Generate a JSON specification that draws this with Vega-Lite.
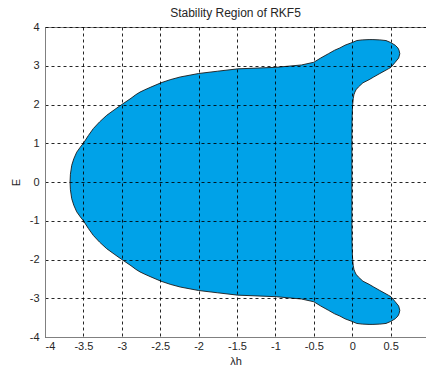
{
  "$schema": "https://vega.github.io/schema/vega-lite/v6.json",
  "autosize": "none",
  "width": 381,
  "height": 310,
  "padding": {"left": 45, "top": 27, "right": 0, "bottom": 35},
  "background": "white",
  "view": {"stroke": "#808080", "strokeWidth": 1},
  "title": {"text": "Stability Region of RKF5", "frame": "group", "anchor": "middle", "offset": 1, "font": "Liberation Sans", "fontSize": 12, "fontWeight": "normal", "color": "#262626"},
  "data": {"values": [
    {"y": -3.675, "xl": 0.22, "xr": 0.27},
    {"y": -3.667, "xl": 0.13, "xr": 0.36},
    {"y": -3.65, "xl": 0.06, "xr": 0.44},
    {"y": -3.6, "xl": 0.0, "xr": 0.5},
    {"y": -3.53, "xl": -0.094, "xr": 0.56},
    {"y": -3.46, "xl": -0.16, "xr": 0.595},
    {"y": -3.4, "xl": -0.23, "xr": 0.61},
    {"y": -3.31, "xl": -0.31, "xr": 0.62},
    {"y": -3.2, "xl": -0.41, "xr": 0.605},
    {"y": -3.09, "xl": -0.5, "xr": 0.56},
    {"y": -3.02, "xl": -0.66, "xr": 0.53},
    {"y": -2.96, "xl": -0.99, "xr": 0.505},
    {"y": -2.92, "xl": -1.49, "xr": 0.47},
    {"y": -2.86, "xl": -1.75, "xr": 0.415},
    {"y": -2.8, "xl": -2.0, "xr": 0.36},
    {"y": -2.71, "xl": -2.24, "xr": 0.28},
    {"y": -2.64, "xl": -2.37, "xr": 0.22},
    {"y": -2.56, "xl": -2.49, "xr": 0.14},
    {"y": -2.45, "xl": -2.62, "xr": 0.08},
    {"y": -2.38, "xl": -2.7, "xr": 0.05},
    {"y": -2.32, "xl": -2.763, "xr": 0.035},
    {"y": -2.25, "xl": -2.82, "xr": 0.022},
    {"y": -2.16, "xl": -2.88, "xr": 0.014},
    {"y": -2.0, "xl": -3.0, "xr": 0.006},
    {"y": -1.86, "xl": -3.1, "xr": 0.002},
    {"y": -1.72, "xl": -3.197, "xr": 0.0},
    {"y": -1.55, "xl": -3.29, "xr": -0.002},
    {"y": -1.38, "xl": -3.37, "xr": -0.003},
    {"y": -1.2, "xl": -3.435, "xr": -0.004},
    {"y": -1.0, "xl": -3.5, "xr": -0.004},
    {"y": -0.9, "xl": -3.54, "xr": -0.004},
    {"y": -0.77, "xl": -3.587, "xr": -0.004},
    {"y": -0.6, "xl": -3.625, "xr": -0.004},
    {"y": -0.43, "xl": -3.652, "xr": -0.004},
    {"y": -0.2, "xl": -3.669, "xr": -0.004},
    {"y": 0.0, "xl": -3.674, "xr": -0.004},
    {"y": 0.2, "xl": -3.669, "xr": -0.004},
    {"y": 0.43, "xl": -3.652, "xr": -0.004},
    {"y": 0.6, "xl": -3.625, "xr": -0.004},
    {"y": 0.77, "xl": -3.587, "xr": -0.004},
    {"y": 0.9, "xl": -3.54, "xr": -0.004},
    {"y": 1.0, "xl": -3.5, "xr": -0.004},
    {"y": 1.2, "xl": -3.435, "xr": -0.004},
    {"y": 1.38, "xl": -3.37, "xr": -0.003},
    {"y": 1.55, "xl": -3.29, "xr": -0.002},
    {"y": 1.72, "xl": -3.197, "xr": 0.0},
    {"y": 1.86, "xl": -3.1, "xr": 0.002},
    {"y": 2.0, "xl": -3.0, "xr": 0.006},
    {"y": 2.16, "xl": -2.88, "xr": 0.014},
    {"y": 2.25, "xl": -2.82, "xr": 0.022},
    {"y": 2.32, "xl": -2.763, "xr": 0.035},
    {"y": 2.38, "xl": -2.7, "xr": 0.05},
    {"y": 2.45, "xl": -2.62, "xr": 0.08},
    {"y": 2.56, "xl": -2.49, "xr": 0.14},
    {"y": 2.64, "xl": -2.37, "xr": 0.22},
    {"y": 2.71, "xl": -2.24, "xr": 0.28},
    {"y": 2.8, "xl": -2.0, "xr": 0.36},
    {"y": 2.86, "xl": -1.75, "xr": 0.415},
    {"y": 2.92, "xl": -1.49, "xr": 0.47},
    {"y": 2.96, "xl": -0.99, "xr": 0.505},
    {"y": 3.02, "xl": -0.66, "xr": 0.53},
    {"y": 3.09, "xl": -0.5, "xr": 0.56},
    {"y": 3.2, "xl": -0.41, "xr": 0.605},
    {"y": 3.31, "xl": -0.31, "xr": 0.62},
    {"y": 3.4, "xl": -0.23, "xr": 0.61},
    {"y": 3.46, "xl": -0.16, "xr": 0.595},
    {"y": 3.53, "xl": -0.094, "xr": 0.56},
    {"y": 3.6, "xl": 0.0, "xr": 0.5},
    {"y": 3.65, "xl": 0.06, "xr": 0.44},
    {"y": 3.667, "xl": 0.13, "xr": 0.36},
    {"y": 3.675, "xl": 0.22, "xr": 0.27}
  ]},
  "mark": {"type": "area", "orient": "horizontal", "fill": "#00a2e8", "fillOpacity": 1, "stroke": "#1a1a1a", "strokeWidth": 0.9, "interpolate": "linear", "clip": true},
  "encoding": {
    "y": {"field": "y", "type": "quantitative", "scale": {"domain": [-4, 4], "nice": false, "zero": false},
      "axis": {"title": "E", "values": [-4, -3, -2, -1, 0, 1, 2, 3, 4], "labelExpr": "toString(datum.value)", "zindex": 1,
        "grid": true, "gridColor": "#000000", "gridDash": [3, 3], "gridOpacity": 0.85, "gridWidth": 1,
        "domain": true, "domainColor": "#808080", "ticks": false, "labelPadding": 6,
        "labelFont": "Liberation Sans", "labelFontSize": 11, "labelColor": "#262626",
        "titleFont": "Liberation Sans", "titleFontSize": 11, "titleFontWeight": "normal", "titleColor": "#262626", "titlePadding": 8}},
    "x": {"field": "xl", "type": "quantitative", "scale": {"domain": [-4, 0.961], "nice": false, "zero": false},
      "axis": {"title": "λh", "values": [-4, -3.5, -3, -2.5, -2, -1.5, -1, -0.5, 0, 0.5], "labelExpr": "toString(datum.value)", "zindex": 1,
        "grid": true, "gridColor": "#000000", "gridDash": [3, 3], "gridOpacity": 0.85, "gridWidth": 1,
        "domain": true, "domainColor": "#808080", "ticks": false, "labelPadding": 3,
        "labelFont": "Liberation Sans", "labelFontSize": 11, "labelColor": "#262626",
        "titleFont": "Liberation Sans", "titleFontSize": 11, "titleFontWeight": "normal", "titleColor": "#262626", "titlePadding": 4}},
    "x2": {"field": "xr"}
  }
}
